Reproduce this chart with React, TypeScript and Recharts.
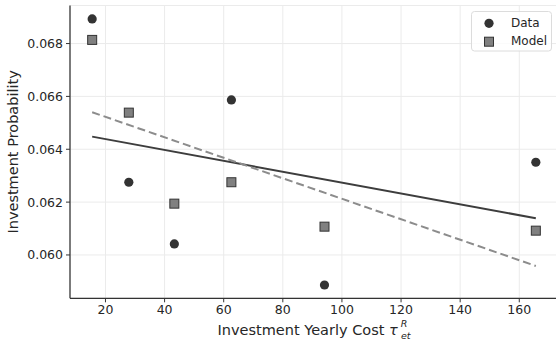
import React from "react";
import {
  ScatterChart,
  Scatter,
  XAxis,
  YAxis,
  CartesianGrid,
  ReferenceLine,
} from "recharts";

// Investment yearly cost (x) for each observation
const costs = [15.5, 27.9, 43.3, 62.6, 94.1, 165.6];
// Observed investment probability
const dataValues = [0.068933, 0.062752, 0.060416, 0.065867, 0.058864, 0.063509];
// Model investment probability
const modelValues = [0.068138, 0.065386, 0.061942, 0.062752, 0.061071, 0.06092];
// Fit line endpoints
const fitX = [15.5, 165.6];
const fitData = [0.064478, 0.061389];
const fitModel = [0.065401, 0.059584];

const xTicks = [20, 40, 60, 80, 100, 120, 140, 160];
const yTicks = [0.06, 0.062, 0.064, 0.066, 0.068];

const dataPts = costs.map((x, i) => ({ x, y: dataValues[i] }));
const modelPts = costs.map((x, i) => ({ x, y: modelValues[i] }));

const FONT = "'DejaVu Sans', sans-serif";
const TXT = "#262626";
const DARK = "#333333";

const CircleShape = (p: any) => (
  <circle cx={p.cx} cy={p.cy} r={4.6} fill="#333333" />
);
const SquareShape = (p: any) => (
  <rect
    x={p.cx - 4.5}
    y={p.cy - 4.5}
    width={9}
    height={9}
    fill="#808080"
    stroke="#333333"
    strokeWidth={1}
  />
);

const XLabel = (props: any) => {
  const vb = props.viewBox || { x: 70, y: 298, width: 488, height: 42 };
  const cx = vb.x + vb.width / 2;
  return (
    <text
      x={cx}
      y={vb.y + 36.7}
      textAnchor="middle"
      fontFamily={FONT}
      fontSize={14.5}
      fill={TXT}
    >
      Investment Yearly Cost{" "}
      <tspan fontStyle="italic">τ</tspan>
      <tspan fontSize={9.5} fontStyle="italic" dy={-7.7} dx={3}>
        R
      </tspan>
      <tspan fontSize={9.5} fontStyle="italic" dy={11.7} dx={-6.5}>
        et
      </tspan>
    </text>
  );
};

const YLabel = (props: any) => {
  const vb = props.viewBox || { x: 0, y: 5.5, width: 70, height: 293 };
  const cy = vb.y + vb.height / 2;
  const x = 18.3;
  return (
    <text
      x={x}
      y={cy}
      transform={`rotate(-90, ${x}, ${cy})`}
      textAnchor="middle"
      fontFamily={FONT}
      fontSize={14.5}
      fill={TXT}
    >
      Investment Probability
    </text>
  );
};

export default function App() {
  return (
    <div
      style={{
        position: "absolute",
        left: 0,
        top: 0,
        width: 556,
        height: 340,
        overflow: "hidden",
        background: "#ffffff",
      }}
    >
      <ScatterChart
        width={570}
        height={340}
        margin={{ top: 5.5, right: 12, bottom: 0, left: 0 }}
      >
        <CartesianGrid stroke="#ebebeb" strokeWidth={1} />
        <XAxis
          type="number"
          dataKey="x"
          domain={[8.0, 173.1]}
          ticks={xTicks}
          allowDataOverflow
          height={41.7}
          tickSize={4}
          tickMargin={3}
          stroke={DARK}
          tick={{ fill: TXT, fontSize: 12.5, fontFamily: FONT }}
          axisLine={{ stroke: DARK, strokeWidth: 1.25 }}
          tickLine={{ stroke: DARK }}
          label={<XLabel />}
        />
        <XAxis
          xAxisId="top"
          orientation="top"
          type="number"
          dataKey="x"
          domain={[8.0, 173.1]}
          height={0}
          tick={false}
          tickLine={false}
          axisLine={{ stroke: DARK, strokeWidth: 1.25 }}
        />
        <YAxis
          type="number"
          dataKey="y"
          domain={[0.05836, 0.06944]}
          ticks={yTicks}
          allowDataOverflow
          width={70}
          tickSize={4}
          tickMargin={3}
          stroke={DARK}
          tickFormatter={(v: number) => v.toFixed(3)}
          tick={{ fill: TXT, fontSize: 12.5, fontFamily: FONT }}
          axisLine={{ stroke: DARK, strokeWidth: 1.25 }}
          tickLine={{ stroke: DARK }}
          label={<YLabel />}
        />
        <ReferenceLine
          segment={[
            { x: fitX[0], y: fitData[0] },
            { x: fitX[1], y: fitData[1] },
          ]}
          stroke="#3d3d3d"
          strokeWidth={2}
          ifOverflow="visible"
        />
        <ReferenceLine
          segment={[
            { x: fitX[0], y: fitModel[0] },
            { x: fitX[1], y: fitModel[1] },
          ]}
          stroke="#8c8c8c"
          strokeWidth={2}
          strokeDasharray="8 4"
          ifOverflow="visible"
        />
        <Scatter
          name="Data"
          data={dataPts}
          shape={CircleShape}
          isAnimationActive={false}
        />
        <Scatter
          name="Model"
          data={modelPts}
          shape={SquareShape}
          isAnimationActive={false}
        />
      </ScatterChart>
      <svg
        width={82}
        height={41}
        style={{ position: "absolute", left: 471, top: 11 }}
      >
        <rect
          x={0.5}
          y={0.5}
          width={80}
          height={39.5}
          rx={3}
          fill="rgba(255,255,255,0.8)"
          stroke="#dcdcdc"
          strokeWidth={1}
        />
        <circle cx={18} cy={12.3} r={4.6} fill="#333333" />
        <text x={40} y={15.7} fontFamily={FONT} fontSize={12} fill={TXT}>
          Data
        </text>
        <rect
          x={13.5}
          y={26.2}
          width={9}
          height={9}
          fill="#808080"
          stroke="#333333"
          strokeWidth={1}
        />
        <text x={40} y={34} fontFamily={FONT} fontSize={12} fill={TXT}>
          Model
        </text>
      </svg>
    </div>
  );
}
